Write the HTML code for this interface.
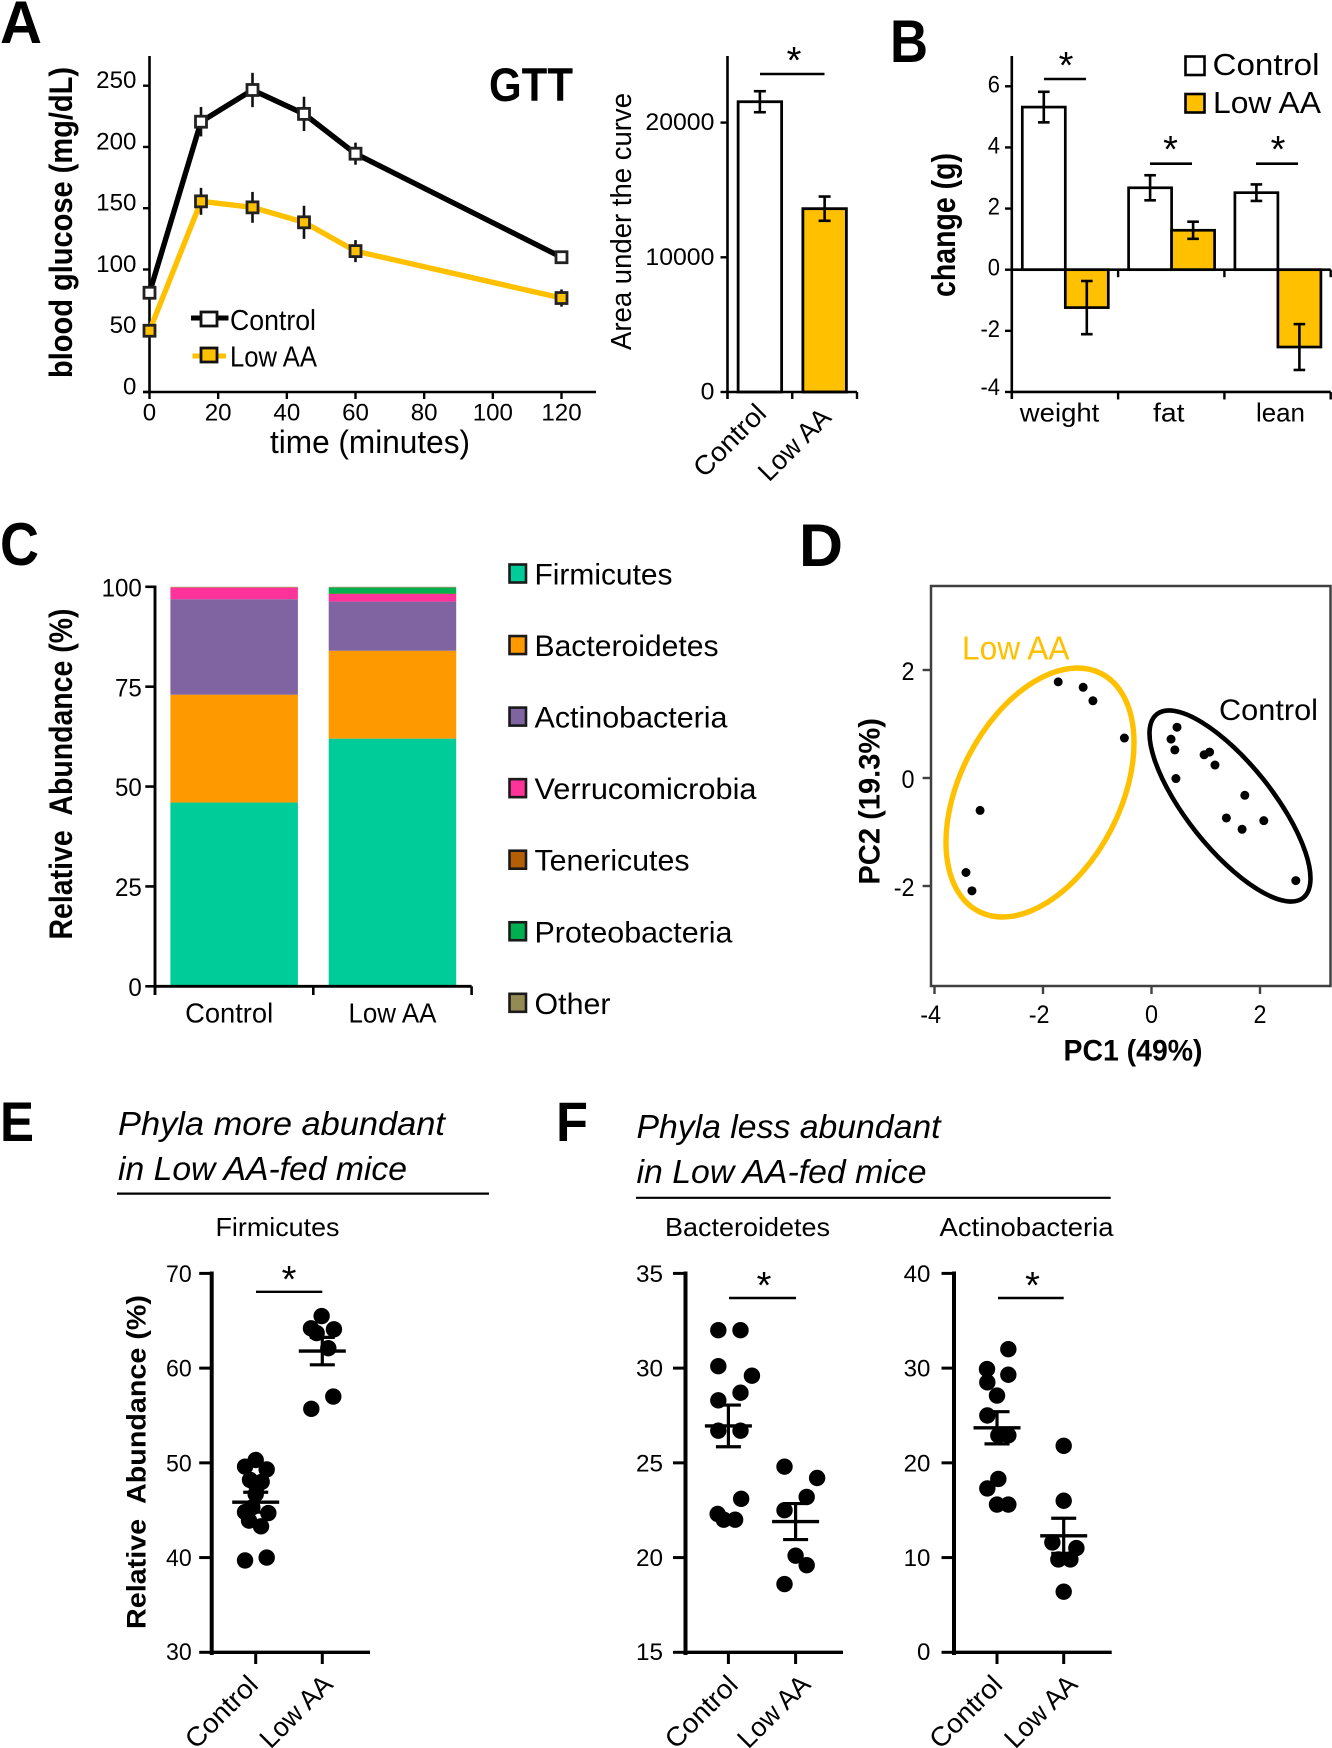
<!DOCTYPE html>
<html lang="en">
<head>
<meta charset="utf-8">
<title>Low AA diet figure</title>
<style>
html,body{margin:0;padding:0;background:#fff;}
svg{display:block;}
text{font-family:"Liberation Sans",sans-serif;fill:#000;}
</style>
</head>
<body>
<svg id="figure" xmlns="http://www.w3.org/2000/svg" width="1332" height="1748" viewBox="0 0 1332 1748">
  <!-- Panel letters -->
  <g font-weight="bold">
    <text x="0" y="43" font-size="60" textLength="42" lengthAdjust="spacingAndGlyphs">A</text>
    <text x="890" y="62" font-size="60" textLength="38" lengthAdjust="spacingAndGlyphs">B</text>
    <text x="0" y="565" font-size="60" textLength="39" lengthAdjust="spacingAndGlyphs">C</text>
    <text x="799" y="566" font-size="60" textLength="44" lengthAdjust="spacingAndGlyphs">D</text>
    <text x="0" y="1141" font-size="56" textLength="34" lengthAdjust="spacingAndGlyphs">E</text>
    <text x="556" y="1141" font-size="56" textLength="32" lengthAdjust="spacingAndGlyphs">F</text>
  </g>

  <!-- Panel A line chart -->
  <g id="gtt">
    <line x1="149.5" y1="56" x2="149.5" y2="393" stroke="#000" stroke-width="2.6"/>
    <line x1="143" y1="392" x2="596" y2="392" stroke="#000" stroke-width="2.6"/>
    <text x="489" y="101" font-size="47" font-weight="bold" textLength="84" lengthAdjust="spacingAndGlyphs">GTT</text>
    <text transform="translate(72,378) rotate(-90)" font-size="32" font-weight="bold" textLength="311" lengthAdjust="spacingAndGlyphs">blood glucose (mg/dL)</text>
    <text x="270" y="453" font-size="32" textLength="200" lengthAdjust="spacingAndGlyphs">time (minutes)</text>
    <g>
      <line x1="191" y1="318" x2="228.5" y2="318" stroke="#000" stroke-width="5"/>
      <rect x="201" y="312" width="16" height="14" fill="#fff" stroke="#111" stroke-width="2.8"/>
      <text x="230" y="330" font-size="29" textLength="86" lengthAdjust="spacingAndGlyphs">Control</text>
    </g>
    <g>
      <line x1="192.5" y1="356" x2="226" y2="356" stroke="#FFC000" stroke-width="5"/>
      <rect x="201" y="348" width="16" height="14" fill="#FFC000" stroke="#111" stroke-width="2.8"/>
      <text x="230" y="366.5" font-size="29" textLength="87" lengthAdjust="spacingAndGlyphs">Low AA</text>
    </g>
  </g>

  <!-- Panel A AUC bars -->
  <g id="auc">
    <text transform="translate(631,350) rotate(-90)" font-size="29" textLength="257" lengthAdjust="spacingAndGlyphs">Area under the curve</text>
    <line x1="760" y1="74" x2="824.5" y2="74" stroke="#000" stroke-width="2.6"/>
    <text x="794" y="73" font-size="38" text-anchor="middle">*</text>
  </g>

  <!-- Panel B bars -->
  <g id="change">
    <text transform="translate(955,297) rotate(-90)" font-size="33" font-weight="bold" textLength="144" lengthAdjust="spacingAndGlyphs">change (g)</text>
    <rect x="1185.5" y="56.5" width="19" height="18.5" fill="#fff" stroke="#000" stroke-width="2.6"/>
    <text x="1212.5" y="75" font-size="31" textLength="107" lengthAdjust="spacingAndGlyphs">Control</text>
    <rect x="1185.5" y="94" width="19" height="18.5" fill="#FFC000" stroke="#000" stroke-width="2.6"/>
    <text x="1213" y="113" font-size="31" textLength="108" lengthAdjust="spacingAndGlyphs">Low AA</text>
    <line x1="1044" y1="79" x2="1086" y2="79" stroke="#000" stroke-width="2.6"/>
    <text x="1066" y="78" font-size="38" text-anchor="middle">*</text>
    <line x1="1150" y1="163.7" x2="1192" y2="163.7" stroke="#000" stroke-width="2.6"/>
    <text x="1170.5" y="162" font-size="38" text-anchor="middle">*</text>
    <line x1="1256" y1="163.7" x2="1298" y2="163.7" stroke="#000" stroke-width="2.6"/>
    <text x="1278" y="162" font-size="38" text-anchor="middle">*</text>
  </g>

  <!-- Panel C stacked bars -->
  <g id="stack">
    <text transform="translate(72,939.5) rotate(-90)" font-size="32" font-weight="bold" textLength="331" lengthAdjust="spacingAndGlyphs" xml:space="preserve">Relative  Abundance (%)</text>
  </g>

  <!-- Panel D PCA -->
  <g id="pca">
    <rect x="931" y="586" width="399.5" height="400" fill="none" stroke="#404040" stroke-width="2.5"/>
    <text x="1063.5" y="1060.5" font-size="30" font-weight="bold" textLength="139" lengthAdjust="spacingAndGlyphs">PC1 (49%)</text>
    <text transform="translate(879.6,884.6) rotate(-90)" font-size="30" font-weight="bold" textLength="166.6" lengthAdjust="spacingAndGlyphs">PC2 (19.3%)</text>
    <text x="962" y="659.3" font-size="33" textLength="107.5" lengthAdjust="spacingAndGlyphs" style="fill:#FFC000">Low AA</text>
    <text x="1219" y="720" font-size="30" textLength="99" lengthAdjust="spacingAndGlyphs">Control</text>
  </g>

  <!-- Panel E -->
  <g id="panelE">
    <text x="118" y="1135" font-size="33" font-style="italic" textLength="327" lengthAdjust="spacingAndGlyphs">Phyla more abundant</text>
    <text x="118" y="1180" font-size="33" font-style="italic" textLength="289" lengthAdjust="spacingAndGlyphs">in Low AA-fed mice</text>
    <line x1="117" y1="1193.6" x2="489" y2="1193.6" stroke="#000" stroke-width="2.2"/>
    <text x="215.5" y="1236" font-size="26" textLength="124" lengthAdjust="spacingAndGlyphs">Firmicutes</text>
    <text transform="translate(145.7,1629) rotate(-90)" font-size="27" font-weight="bold" textLength="334" lengthAdjust="spacingAndGlyphs" xml:space="preserve">Relative  Abundance (%)</text>
    <line x1="256" y1="1291.8" x2="322.3" y2="1291.8" stroke="#000" stroke-width="2.4"/>
    <text x="289" y="1292" font-size="38" text-anchor="middle">*</text>
  </g>

  <!-- Panel F -->
  <g id="panelF">
    <text x="636.5" y="1138" font-size="33" font-style="italic" textLength="304" lengthAdjust="spacingAndGlyphs">Phyla less abundant</text>
    <text x="636.5" y="1183" font-size="33" font-style="italic" textLength="290" lengthAdjust="spacingAndGlyphs">in Low AA-fed mice</text>
    <line x1="636" y1="1197.8" x2="1110.7" y2="1197.8" stroke="#000" stroke-width="2.2"/>
    <text x="665" y="1236" font-size="26" textLength="165" lengthAdjust="spacingAndGlyphs">Bacteroidetes</text>
    <text x="939.5" y="1236" font-size="26" textLength="174" lengthAdjust="spacingAndGlyphs">Actinobacteria</text>
    <line x1="729" y1="1298" x2="796" y2="1298" stroke="#000" stroke-width="2.4"/>
    <text x="764" y="1298" font-size="38" text-anchor="middle">*</text>
    <line x1="998" y1="1298" x2="1063.7" y2="1298" stroke="#000" stroke-width="2.4"/>
    <text x="1032.5" y="1298" font-size="38" text-anchor="middle">*</text>
  </g>
</svg>

<script>
// ---- Panel A: glucose tolerance ----
const gttTimes = [0, 15, 30, 45, 60, 120];
const gttControl = [81, 220.6, 246.5, 227, 194.5, 110];
const gttControlErr = [3, 12, 14, 14, 9, 2];
const gttLowAA = [50, 155.6, 150.7, 138.5, 115, 76.7];
const gttLowAAErr = [2, 11, 12.6, 13.5, 9, 7];
const gttXTicks = [0, 20, 40, 60, 80, 100, 120];
const gttYTicks = [0, 50, 100, 150, 200, 250];

// ---- Panel A: AUC ----
const aucCategories = ['Control', 'Low AA'];
const aucValues = [21550, 13610];
const aucErr = [780, 900];
const aucYTicks = [0, 10000, 20000];

// ---- Panel B: body composition change ----
const changeCategories = ['weight', 'fat', 'lean'];
const changeControl = [5.32, 2.68, 2.52];
const changeControlErr = [0.5, 0.41, 0.27];
const changeLowAA = [-1.24, 1.29, -2.53];
const changeLowAAErr = [0.87, 0.28, 0.75];
const changeYTicks = [-4, -2, 0, 2, 4, 6];

// ---- Panel C: stacked abundance ----
const stackCategories = ['Control', 'Low AA'];
const phylaNames = ['Firmicutes', 'Bacteroidetes', 'Actinobacteria', 'Verrucomicrobia', 'Tenericutes', 'Proteobacteria', 'Other'];
const firmicutesShare = [46, 62];
const bacteroidetesShare = [27, 22];
const actinobacteriaShare = [23.9, 12.3];
const verrucomicrobiaShare = [2.9, 1.9];
const tenericutesShare = [0.1, 0.1];
const proteobacteriaShare = [0, 1.5];
const otherShare = [0.1, 0.2];
const phylaColors = ['#00CC99', '#FF9900', '#8064A2', '#FF3399', '#B45F06', '#00B050', '#948A54'];
const stackYTicks = [0, 25, 50, 75, 100];

// ---- Panel D: PCA ----
const pcaLowPC1 = [-1.72, -1.26, -1.08, -0.5, -3.16, -3.42, -3.31];
const pcaLowPC2 = [1.78, 1.68, 1.43, 0.74, -0.6, -1.75, -2.09];
const pcaControlPC1 = [0.47, 0.36, 0.43, 0.45, 0.97, 1.07, 1.17, 1.72, 1.38, 2.07, 1.67, 2.66];
const pcaControlPC2 = [0.94, 0.72, 0.52, -0.01, 0.43, 0.48, 0.24, -0.32, -0.74, -0.79, -0.95, -1.9];
const pcaXTicks = [-4, -2, 0, 2];
const pcaYTicks = [-2, 0, 2];

// ---- Panels E, F: dot plots (jitter in fractions of category spacing) ----
const firmicutesControl = [50.3, 49.6, 49.3, 48.2, 48, 47.5, 46.7, 45.3, 44.8, 44.7, 43.9, 43.3, 39.7, 40];
const firmicutesControlJitter = [0, -0.16, 0.165, -0.085, 0.09, 0.015, 0, -0.05, -0.16, 0.19, -0.1, 0.08, -0.16, 0.165];
const firmicutesLow = [65.5, 64.2, 64.1, 63.7, 62.1, 57, 55.7];
const firmicutesLowJitter = [-0.01, -0.17, 0.175, -0.085, 0.09, 0.165, -0.165];
const firmicutesMean = [45.85, 61.8];
const firmicutesSem = [1.05, 1.45];
const firmicutesTicks = [30, 40, 50, 60, 70];

const bacteroidetesControl = [32, 32, 30.1, 29.6, 28.7, 28.3, 26.7, 26.7, 23.1, 22.3, 22, 22];
const bacteroidetesControlJitter = [-0.15, 0.18, -0.15, 0.35, 0.18, -0.15, -0.15, 0.18, 0.19, -0.16, -0.07, 0.1];
const bacteroidetesLow = [24.8, 24.2, 23.2, 22.5, 20.1, 19.6, 18.6];
const bacteroidetesLowJitter = [-0.165, 0.32, 0.165, -0.165, 0, 0.165, -0.165];
const bacteroidetesMean = [26.95, 21.9];
const bacteroidetesSem = [1.1, 0.95];
const bacteroidetesTicks = [15, 20, 25, 30, 35];

const actinobacteriaControl = [32, 29.9, 29.3, 28.5, 27.1, 25, 22.9, 22.9, 18.3, 17.3, 15.6, 15.6];
const actinobacteriaControlJitter = [0.17, -0.15, 0.17, -0.145, 0, -0.145, 0.02, 0.17, 0.02, -0.145, 0, 0.17];
const actinobacteriaLow = [21.8, 16, 11.6, 11, 9.8, 9.8, 6.4];
const actinobacteriaLowJitter = [0, 0, -0.17, 0.19, -0.08, 0.1, 0];
const actinobacteriaMean = [23.7, 12.3];
const actinobacteriaSem = [1.7, 1.85];
const actinobacteriaTicks = [0, 10, 20, 30, 40];

const NS = 'http://www.w3.org/2000/svg';
const YELLOW = '#FFC000';

function mk(parent, tag, attrs) {
  const e = document.createElementNS(NS, tag);
  for (const k in attrs) e.setAttribute(k, attrs[k]);
  parent.appendChild(e);
  return e;
}
function fit(str, charW) {
  let n = 0;
  for (const c of String(str)) n += (c === '-') ? 0.6 : 1;
  return n * charW;
}
function txt(parent, x, y, str, size, width, anchor) {
  const t = mk(parent, 'text', { x: x, y: y, 'font-size': size, 'text-anchor': anchor || 'start', textLength: width, lengthAdjust: 'spacingAndGlyphs' });
  t.textContent = str;
  return t;
}
function linear(d0, d1, r0, r1) {
  return function (v) { return r0 + (v - d0) * (r1 - r0) / (d1 - d0); };
}
function drawYTicks(g, ticks, y, tickX1, tickX2, labelX, dy, size, charW, w) {
  ticks.forEach(function (v) {
    const l = mk(g, 'line', { x1: tickX1, x2: tickX2, y1: y(v), y2: y(v), stroke: '#000', 'stroke-width': w });
    
    
    const t = txt(g, labelX, Math.min(y(v) + dy, g.dataset.maxLabelY || 1e9), v, size, fit(v, charW), 'end');
    
    
  });
}
function drawXTickMark(g, x, y1, y2, w) {
  const l = mk(g, 'line', { x1: x, x2: x, y1: y1, y2: y2, stroke: '#000', 'stroke-width': w });
  
  
}
function drawRotated(g, x, y, str, width) {
  const t = mk(g, 'text', { transform: 'translate(' + x + ',' + y + ') rotate(-45)', 'font-size': 27, 'text-anchor': 'end', textLength: width, lengthAdjust: 'spacingAndGlyphs' });
  t.textContent = str;
  
  
}
function drawWhisker(g, x, y1, y2, capHalf, w) {
  const s = mk(g, 'line', { x1: x, x2: x, y1: y1, y2: y2, stroke: '#000', 'stroke-width': w });
  
  
  [y1, y2].forEach(function (yy) {
    const c = mk(g, 'line', { x1: x - capHalf, x2: x + capHalf, y1: yy, y2: yy, stroke: '#000', 'stroke-width': w });
    
    
  });
}
function drawBar(g, x, w, y1, y2, fill, sw) {
  const r = mk(g, 'rect', { x: x, width: w, y: Math.min(y1, y2), height: Math.abs(y2 - y1), fill: fill, stroke: '#000', 'stroke-width': sw });
  
  
}

// ---------- GTT ----------
(function () {
  const g = document.getElementById('gtt');
  const x = linear(0, 120, 149.5, 561.5);
  const y = linear(0, 250, 392, 85.7);
  drawYTicks(g, gttYTicks, y, 143, 149.5, 136.4, 2.5, 24, 13.4, 2.4);
  gttXTicks.forEach(function (v) {
    drawXTickMark(g, x(v), 392, 399, 2.4);
    const t = txt(g, x(v), 420.7, v, 24, fit(v, 13.4), 'middle');
    
    
  });
  function series(vals, errs, color, fill, nm) {
    const p = mk(g, 'polyline', { points: gttTimes.map(function (t, i) { return x(t) + ',' + y(vals[i]); }).join(' '), fill: 'none', stroke: color, 'stroke-width': 5.4, 'stroke-linejoin': 'miter' });
    
    
    gttTimes.forEach(function (t, i) {
      const l = mk(g, 'line', { x1: x(t), x2: x(t), y1: y(vals[i] + errs[i]), y2: y(vals[i] - errs[i]), stroke: '#111', 'stroke-width': 2.6 });
      
      
    });
    gttTimes.forEach(function (t, i) {
      const r = mk(g, 'rect', { x: x(t) - 5.5, y: y(vals[i]) - 5.5, width: 11, height: 11, fill: fill, stroke: '#222', 'stroke-width': 2.8 });
      
      
    });
  }
  series(gttControl, gttControlErr, '#000', '#fff', 'control');
  series(gttLowAA, gttLowAAErr, YELLOW, YELLOW, 'low-aa');
})();

// ---------- AUC ----------
(function () {
  const g = document.getElementById('auc');
  const y = linear(0, 10000, 392, 257.3);
  const step = 64.75, x0 = 727.5, bw = 43.5;
  const cx = function (i) { return x0 + step * (i + 0.5); };
  const fills = ['#fff', YELLOW];
  aucValues.forEach(function (v, i) {
    drawBar(g, cx(i) - bw / 2, bw, y(0), y(v), fills[i], 2.8);
    drawWhisker(g, cx(i), y(v + aucErr[i]), y(v - aucErr[i]), 6, 2.6);
  });
  drawYTicks(g, aucYTicks, y, 720.5, 727.5, 714.4, 7.5, 24, 13.8, 2.4);
  const axisY = mk(g, 'line', { x1: x0, x2: x0, y1: 56, y2: 399, stroke: '#000', 'stroke-width': 2.6 });
  
  
  const axisX = mk(g, 'line', { x1: x0, x2: x0 + step * aucCategories.length, y1: 392, y2: 392, stroke: '#000', 'stroke-width': 2.6 });
  
  
  for (let i = 1; i <= aucCategories.length; i++) drawXTickMark(g, x0 + step * i, 392, 399, 2.4);
  drawRotated(g, cx(0) + 8, 415, aucCategories[0], 90);
  drawRotated(g, cx(1) + 8, 419, aucCategories[1], 90);
})();

// ---------- Body composition ----------
(function () {
  const g = document.getElementById('change');
  const y = linear(0, 6, 269.7, 86.3);
  const x0 = 1011.8, step = 106.3, bw = 43;
  changeCategories.forEach(function (c, i) {
    const s = x0 + step * i + 10.5;
    drawBar(g, s, bw, y(0), y(changeControl[i]), '#fff', 2.7);
    drawBar(g, s + bw, bw, y(0), y(changeLowAA[i]), YELLOW, 2.7);
    drawWhisker(g, s + bw / 2, y(changeControl[i] + changeControlErr[i]), y(changeControl[i] - changeControlErr[i]), 5.8, 2.6);
    drawWhisker(g, s + bw * 1.5, y(changeLowAA[i] + changeLowAAErr[i]), y(changeLowAA[i] - changeLowAAErr[i]), 5.8, 2.6);
  });
  const axisY = mk(g, 'line', { x1: x0, x2: x0, y1: 56, y2: 399, stroke: '#000', 'stroke-width': 2.6 });
  
  
  [y(0), y(-4)].forEach(function (yy) {
    const a = mk(g, 'line', { x1: x0, x2: x0 + step * 3, y1: yy, y2: yy, stroke: '#000', 'stroke-width': 2.6 });
    
    
    for (let i = 1; i <= 3; i++) drawXTickMark(g, x0 + step * i, yy, yy + 7.5, 2.4);
  });
  g.dataset.maxLabelY = 395;
  drawYTicks(g, changeYTicks, y, 1005, x0, 1000, 6, 24, 12.2, 2.4);
  const labelWidths = [79.5, 31.5, 49];
  const labelShift = [-5.4, -2.5, 2.9];
  changeCategories.forEach(function (c, i) {
    const t = txt(g, x0 + step * (i + 0.5) + labelShift[i], 421.7, c, 26, labelWidths[i], 'middle');
    
    
  });
})();

// ---------- Stacked ----------
(function () {
  const g = document.getElementById('stack');
  const y = linear(0, 100, 986.3, 586.8);
  const x0 = 155, step = 158.3, bw = 127.5;
  const layers = [firmicutesShare, bacteroidetesShare, actinobacteriaShare, verrucomicrobiaShare, tenericutesShare, proteobacteriaShare, otherShare];
  stackCategories.forEach(function (c, i) {
    let base = 0;
    layers.forEach(function (layer, k) {
      const r = mk(g, 'rect', { x: x0 + step * (i + 0.5) - bw / 2, width: bw, y: y(base + layer[i]), height: y(base) - y(base + layer[i]), fill: phylaColors[k] });
      
      
      base += layer[i];
    });
    const t = txt(g, x0 + step * (i + 0.5) - (i ? 0 : 5), 1022.7, c, 28, 88, 'middle');
    
    
  });
  const axisY = mk(g, 'line', { x1: x0, x2: x0, y1: 585.5, y2: 995, stroke: '#000', 'stroke-width': 2.9 });
  
  
  const axisX = mk(g, 'line', { x1: x0, x2: x0 + step * 2, y1: 986.3, y2: 986.3, stroke: '#000', 'stroke-width': 2.9 });
  
  
  for (let i = 1; i <= 2; i++) drawXTickMark(g, x0 + step * i, 986.3, 995, 2.6);
  drawYTicks(g, stackYTicks, y, 145.3, x0, 141.8, 9.6, 25, 13.4, 2.6);
  const legendY0 = 564.5, legendStep = 71.55;
  const legendW = [138, 184, 193, 222, 155, 198, 76];
  phylaNames.forEach(function (n, i) {
    const r = mk(g, 'rect', { x: 509.5, y: legendY0 + legendStep * i, width: 16.5, height: 18, fill: phylaColors[i], stroke: '#1a1a1a', 'stroke-width': 2.6 });
    
    
    const t = txt(g, 534.5, legendY0 + legendStep * i + 20, n, 30, legendW[i]);
    
    
  });
})();

// ---------- PCA ----------
(function () {
  const g = document.getElementById('pca');
  const x = linear(0, 2, 1151.5, 1260);
  const y = linear(0, 2, 778, 670);
  pcaXTicks.forEach(function (v) {
    const l = mk(g, 'line', { x1: x(v), x2: x(v), y1: 986, y2: 994, stroke: '#404040', 'stroke-width': 2.4 });
    
    
    const t = txt(g, x(v) + 6.5, 1023, v, 25, fit(v, 13), 'end');
    
    
  });
  pcaYTicks.forEach(function (v) {
    const l = mk(g, 'line', { x1: 922.6, x2: 931, y1: y(v), y2: y(v), stroke: '#404040', 'stroke-width': 2.4 });
    
    
    const t = txt(g, 914.5, y(v) + 10, v, 25, fit(v, 13), 'end');
    
    
  });
  const e1 = mk(g, 'ellipse', { cx: 1040, cy: 792.5, rx: 133.8, ry: 80.2, transform: 'rotate(-62.75 1040 792.5)', fill: 'none', stroke: YELLOW, 'stroke-width': 5.4 });
  
  
  const e2 = mk(g, 'ellipse', { cx: 1230, cy: 806, rx: 117.4, ry: 42.7, transform: 'rotate(51.4 1230 806)', fill: 'none', stroke: '#000', 'stroke-width': 4.6 });
  
  
  pcaLowPC1.forEach(function (v, i) {
    const c = mk(g, 'circle', { cx: x(v), cy: y(pcaLowPC2[i]), r: 4.5, fill: '#000' });
    
    
  });
  pcaControlPC1.forEach(function (v, i) {
    const c = mk(g, 'circle', { cx: x(v), cy: y(pcaControlPC2[i]), r: 4.5, fill: '#000' });
    
    
  });
})();

// ---------- Dot plots ----------
function dotPlot(g, cfg) {
  const y = linear(cfg.ticks[0], cfg.ticks[cfg.ticks.length - 1], 1652.3, 1273.4);
  function dots(vals, jit, xc) {
    vals.forEach(function (v, i) {
      const c = mk(g, 'circle', { cx: xc + jit[i] * cfg.step, cy: y(v), r: 8.2, fill: '#000' });
      
      
    });
  }
  dots(cfg.control, cfg.controlJitter, cfg.x1);
  dots(cfg.low, cfg.lowJitter, cfg.x1 + cfg.step);
  [0, 1].forEach(function (i) {
    const xc = cfg.x1 + cfg.step * i;
    const m = mk(g, 'line', { x1: xc - 23.5, x2: xc + 23.5, y1: y(cfg.mean[i]), y2: y(cfg.mean[i]), stroke: '#000', 'stroke-width': 3.4 });
    
    
    drawWhisker(g, xc, y(cfg.mean[i] + cfg.sem[i]), y(cfg.mean[i] - cfg.sem[i]), 12.5, 3.2);
    drawXTickMark(g, xc, 1652.3, 1664, 3);
  });
  const axisY = mk(g, 'line', { x1: cfg.axisX, x2: cfg.axisX, y1: 1271.5, y2: 1655, stroke: '#000', 'stroke-width': 4 });
  
  
  const axisX = mk(g, 'line', { x1: cfg.axisX, x2: cfg.axisEnd, y1: 1652.3, y2: 1652.3, stroke: '#000', 'stroke-width': 3.4 });
  
  
  cfg.ticks.forEach(function (v) {
    const l = mk(g, 'line', { x1: cfg.axisX - 12.5, x2: cfg.axisX, y1: y(v), y2: y(v), stroke: '#000', 'stroke-width': 3 });
    
    
    const t = txt(g, cfg.labelX, y(v) + (v === cfg.ticks[0] ? 7.7 : 8.5), v, 24, fit(v, cfg.charW), 'end');
    
    
  });
  drawRotated(g, cfg.endControl, 1686.5, 'Control', 90);
  drawRotated(g, cfg.endLow, 1686, 'Low AA', 90);
}
dotPlot(document.getElementById('panelE'), {
  ticks: firmicutesTicks, control: firmicutesControl, controlJitter: firmicutesControlJitter,
  low: firmicutesLow, lowJitter: firmicutesLowJitter, mean: firmicutesMean, sem: firmicutesSem,
  x1: 255.7, step: 66.6, axisX: 211.7, axisEnd: 370, labelX: 191.7, charW: 12.85, endControl: 259.7, endLow: 334.3
});
dotPlot(document.getElementById('panelF'), {
  ticks: bacteroidetesTicks, control: bacteroidetesControl, controlJitter: bacteroidetesControlJitter,
  low: bacteroidetesLow, lowJitter: bacteroidetesLowJitter, mean: bacteroidetesMean, sem: bacteroidetesSem,
  x1: 728.4, step: 67.2, axisX: 685.5, axisEnd: 843, labelX: 663, charW: 13.5, endControl: 739.5, endLow: 812
});
dotPlot(document.getElementById('panelF'), {
  ticks: actinobacteriaTicks, control: actinobacteriaControl, controlJitter: actinobacteriaControlJitter,
  low: actinobacteriaLow, lowJitter: actinobacteriaLowJitter, mean: actinobacteriaMean, sem: actinobacteriaSem,
  x1: 997, step: 66.7, axisX: 954, axisEnd: 1111.7, labelX: 930.4, charW: 13.4, endControl: 1004, endLow: 1079
});
</script>
</body>
</html>
